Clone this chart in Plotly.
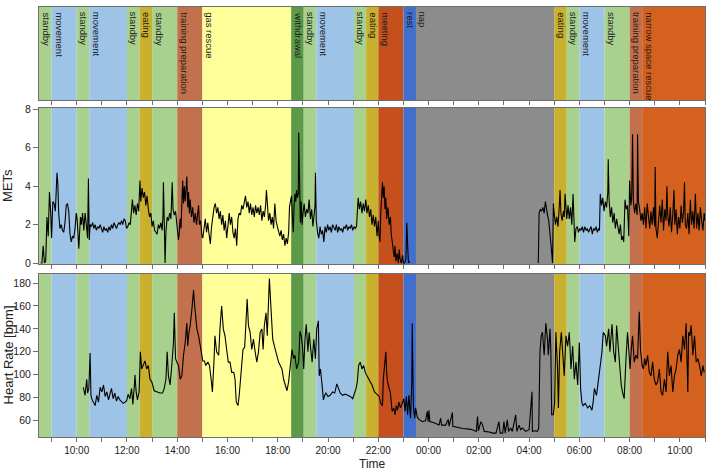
import plotly.graph_objects as go

# ---------------- data ----------------
seg_start = ["08:30", "09:00", "10:00", "10:30", "12:00", "12:30", "13:00", "14:00",
             "15:00", "18:32", "19:02", "19:32", "21:02", "21:31", "22:00", "23:00",
             "23:30", "05:00", "05:30", "06:00", "07:00", "08:00", "08:30"]
seg_end_last = "11:00"
seg_label = ["standby", "movement", "standby", "movement", "standby", "eating", "standby",
             "training preparation", "gas rescue", "withdrawal", "standby", "movement",
             "standby", "eating", "meeting", "rest", "nap", "eating", "standby", "movement",
             "standby", "training preparation", "narrow space rescue"]
activity_color = {
    "standby": "#a9d18e", "movement": "#9dc3e6", "eating": "#c9b02f",
    "training preparation": "#c3704c", "gas rescue": "#ffff99", "withdrawal": "#5c9a4a",
    "meeting": "#c5501e", "rest": "#4070cc", "nap": "#8c8c8c",
    "narrow space rescue": "#d5611f",
}

met1_time = [
    "08:34", "08:37", "08:40", "08:43", "08:46", "08:49", "08:52", "08:55", "08:58", "09:00",
    "09:03", "09:06", "09:09", "09:11", "09:13", "09:15", "09:17", "09:20", "09:23", "09:26",
    "09:29", "09:32", "09:35", "09:38", "09:41", "09:44", "09:47", "09:50", "09:53", "09:56",
    "09:59", "10:01", "10:04", "10:05", "10:07", "10:09", "10:11", "10:14", "10:17", "10:20",
    "10:23", "10:26", "10:28", "10:30", "10:32", "10:35", "10:38", "10:41", "10:44", "10:47",
    "10:50", "10:53", "10:56", "10:59", "11:02", "11:05", "11:08", "11:11", "11:14", "11:17",
    "11:20", "11:23", "11:26", "11:29", "11:32", "11:35", "11:38", "11:41", "11:44", "11:47",
    "11:50", "11:53", "11:56", "11:59", "12:02", "12:05", "12:08", "12:11", "12:13", "12:16",
    "12:19", "12:22", "12:25", "12:28", "12:31", "12:33", "12:36", "12:39", "12:42", "12:45",
    "12:48", "12:51", "12:54", "12:57", "13:00", "13:03", "13:06", "13:09", "13:12", "13:15",
    "13:18", "13:21", "13:24", "13:26", "13:27", "13:29", "13:31", "13:33", "13:36", "13:39",
    "13:42", "13:45", "13:47", "13:48", "13:50", "13:53", "13:56", "13:59", "14:01", "14:03",
    "14:05", "14:07", "14:09", "14:11", "14:13", "14:15", "14:17", "14:19", "14:21", "14:23",
    "14:25", "14:27", "14:29", "14:31", "14:34", "14:37", "14:40", "14:43", "14:46", "14:49",
    "14:51", "14:53", "14:56", "14:59", "15:01", "15:04", "15:07", "15:10", "15:13", "15:16",
    "15:19", "15:22", "15:25", "15:28", "15:31", "15:34", "15:37", "15:40", "15:43", "15:46",
    "15:49", "15:52", "15:55", "15:58", "16:01", "16:04", "16:07", "16:10", "16:13", "16:16",
    "16:19", "16:22", "16:25", "16:28", "16:31", "16:34", "16:37", "16:40", "16:43", "16:46",
    "16:49", "16:52", "16:55", "16:58", "17:01", "17:04", "17:07", "17:10", "17:13", "17:16",
    "17:19", "17:22", "17:25", "17:28", "17:31", "17:33", "17:35", "17:38", "17:41", "17:44",
    "17:47", "17:50", "17:53", "17:56", "17:59", "18:02", "18:05", "18:08", "18:11", "18:14",
    "18:17", "18:20", "18:23", "18:26", "18:28", "18:31", "18:33", "18:35", "18:37", "18:39",
    "18:41", "18:43", "18:45", "18:47", "18:49", "18:50", "18:52", "18:54", "18:56", "18:58",
    "19:00", "19:03", "19:06", "19:09", "19:12", "19:15", "19:18", "19:21", "19:24", "19:27",
    "19:29", "19:30", "19:32", "19:35", "19:38", "19:41", "19:44", "19:47", "19:50", "19:53",
    "19:56", "19:59", "20:02", "20:05", "20:08", "20:11", "20:14", "20:17", "20:20", "20:23",
    "20:26", "20:29", "20:32", "20:35", "20:38", "20:41", "20:44", "20:47", "20:50", "20:53",
    "20:56", "20:59", "21:02", "21:05", "21:08", "21:10", "21:12", "21:15", "21:18", "21:21",
    "21:24", "21:27", "21:30", "21:33", "21:36", "21:39", "21:42", "21:45", "21:48", "21:51",
    "21:54", "21:57", "22:00", "22:02", "22:04", "22:06", "22:08", "22:10", "22:12", "22:14",
    "22:16", "22:18", "22:20", "22:23", "22:26", "22:29", "22:31", "22:33", "22:36", "22:38",
    "22:40", "22:42", "22:45", "22:48", "22:50", "22:52", "22:55", "22:58", "23:00", "23:03",
    "23:06", "23:08", "23:10", "23:12", "23:15",
]
met1_value = [
    0.0, 0.0, 0.9, 0.0, 0.1, 2.4, 1.4, 3.7, 2.6, 1.3,
    3.2, 3.1, 2.7, 3.8, 4.7, 4.1, 2.6, 1.8, 2.0, 1.7,
    1.6, 2.1, 3.0, 3.1, 2.7, 1.5, 1.1, 1.4, 1.3, 1.8,
    2.6, 2.3, 1.2, 0.75, 1.6, 2.4, 2.0, 2.6, 1.7, 2.6,
    2.0, 1.3, 4.4, 1.2, 2.0, 1.9, 2.1, 1.8, 2.0, 1.7,
    1.9, 1.8, 2.0, 1.8, 1.6, 1.9, 1.7, 1.8, 1.6, 1.9,
    1.7, 2.0, 1.8, 2.1, 1.9, 1.8, 2.0, 2.1, 2.0, 2.2,
    2.0, 2.3, 2.2, 1.8, 1.9, 2.1, 2.0, 2.8, 3.3, 2.6,
    3.0, 2.5, 3.1, 2.7, 4.3, 3.2, 3.9, 3.4, 3.7, 3.0,
    3.5, 2.8, 2.4, 2.6, 1.9, 2.2, 1.7, 1.6, 1.5, 2.0,
    1.8, 2.1, 1.7, 2.5, 4.2, 2.2, 0.0, 1.6, 2.4, 2.2,
    2.6, 2.3, 3.3, 4.2, 2.8, 2.5, 2.7, 2.1, 1.5, 1.2,
    1.6, 2.3, 1.8, 3.4, 4.3, 3.1, 4.0, 3.2, 3.8, 4.5,
    2.9, 3.7, 2.6, 3.3, 2.4, 2.9, 2.1, 2.6, 2.0, 2.7,
    3.0, 2.0, 2.2, 1.4, 1.3, 1.8, 2.3, 1.6, 2.1, 1.5,
    1.0, 1.9, 2.6, 2.9, 3.1, 2.6, 2.9, 2.3, 2.7, 2.0,
    2.5, 1.7, 2.2, 1.3, 1.9, 2.6, 2.0, 2.4, 1.6, 1.3,
    1.8, 0.9, 2.3, 2.6, 2.5, 3.0, 2.8, 3.3, 3.5, 2.9,
    3.2, 2.6, 3.1, 2.5, 2.9, 2.4, 3.0, 2.6, 2.9, 2.5,
    3.0, 2.2, 2.7, 2.4, 3.0, 3.8, 2.9, 2.2, 2.6, 2.0,
    2.4, 1.8, 3.1, 2.2, 1.9, 1.6, 1.4, 1.7, 1.2, 1.5,
    0.9, 1.3, 1.0, 1.6, 2.9, 3.3, 3.5, 2.4, 1.6, 3.0,
    3.6, 3.2, 3.8, 3.4, 3.6, 6.8, 3.3, 2.1, 3.2, 2.0,
    2.5, 3.1, 2.4, 2.8, 2.6, 3.3, 2.3, 2.8, 1.9, 2.5,
    3.0, 4.7, 2.2, 1.6, 1.3, 1.9, 1.5, 1.7, 1.1, 1.9,
    1.6, 2.0, 1.7, 1.9, 1.6, 2.0, 1.8, 1.7, 2.0, 1.6,
    1.9, 1.7, 1.8, 1.6, 1.9, 1.8, 2.0, 1.7, 1.9, 1.8,
    2.0, 1.7, 1.9, 1.8, 1.9, 3.0, 3.4, 2.8, 3.2, 2.6,
    3.1, 2.7, 3.3, 2.6, 3.0, 2.4, 2.8, 2.0, 2.5, 1.9,
    2.4, 1.4, 2.2, 1.4, 1.1, 2.6, 3.6, 4.2, 3.4, 4.0,
    2.8, 3.4, 2.3, 2.9, 2.0, 2.4, 1.5, 1.1, 0.8, 0.3,
    0.9, 0.1, 0.5, 0.0, 0.7, 0.2, 0.0, 0.4, 0.0, 0.0,
    0.2, 2.1, 1.0, 0.0, 0.1,
]

met2_time = [
    "04:22", "04:24", "04:27", "04:30", "04:33", "04:36", "04:39", "04:41", "04:44", "04:47",
    "04:50", "04:53", "04:56", "04:58", "05:00", "05:03", "05:06", "05:09", "05:12", "05:14",
    "05:16", "05:19", "05:22", "05:24", "05:26", "05:28", "05:30", "05:33", "05:36", "05:39",
    "05:42", "05:45", "05:47", "05:49", "05:52", "05:55", "05:58", "06:01", "06:04", "06:07",
    "06:10", "06:13", "06:16", "06:19", "06:22", "06:25", "06:28", "06:31", "06:34", "06:37",
    "06:40", "06:43", "06:46", "06:48", "06:50", "06:53", "06:56", "06:59", "07:02", "07:05",
    "07:08", "07:09", "07:11", "07:14", "07:17", "07:20", "07:23", "07:26", "07:29", "07:32",
    "07:35", "07:38", "07:41", "07:44", "07:46", "07:49", "07:52", "07:55", "07:58", "08:00",
    "08:03", "08:05", "08:07", "08:09", "08:12", "08:15", "08:18", "08:19", "08:21", "08:24",
    "08:27", "08:30", "08:33", "08:36", "08:39", "08:42", "08:45", "08:48", "08:51", "08:54",
    "08:57", "09:00", "09:01", "09:03", "09:06", "09:09", "09:12", "09:15", "09:18", "09:21",
    "09:24", "09:27", "09:29", "09:31", "09:34", "09:37", "09:40", "09:43", "09:46", "09:48",
    "09:51", "09:54", "09:57", "10:00", "10:03", "10:06", "10:09", "10:11", "10:13", "10:16",
    "10:19", "10:22", "10:25", "10:28", "10:31", "10:34", "10:37", "10:40", "10:43", "10:46",
    "10:49", "10:52", "10:55", "10:58", "11:00",
]
met2_value = [
    0.0, 2.6, 2.8, 2.7, 2.9, 2.6, 3.2, 2.8, 2.5, 2.2,
    1.6, 0.8, 0.0, 3.1, 2.6, 2.0, 2.4, 1.9, 2.9, 3.8,
    2.6, 2.2, 2.7, 2.4, 3.6, 3.0, 2.3, 3.0, 2.3, 2.9,
    2.0, 3.6, 1.9, 1.1, 1.8, 1.9, 1.6, 1.8, 1.7, 1.9,
    1.6, 1.9, 1.7, 1.8, 1.6, 1.8, 1.9, 1.5, 1.8, 1.7,
    1.9, 1.6, 1.8, 1.7, 3.6, 3.0, 3.4, 2.7, 3.2, 2.9,
    3.7, 5.4, 3.3, 2.4, 2.9, 2.1, 2.6, 1.8, 2.3, 1.9,
    1.5, 2.0, 1.2, 1.4, 1.1, 3.3, 2.8, 3.0, 1.4, 4.3,
    3.0, 3.4, 6.7, 3.2, 2.6, 3.1, 2.5, 6.7, 3.2, 2.8,
    2.2, 2.6, 2.0, 2.9, 1.8, 3.1, 2.3, 1.8, 2.7, 2.0,
    2.9, 1.9, 5.0, 1.8, 1.3, 2.4, 3.0, 2.1, 3.3, 1.7,
    2.8, 2.2, 4.0, 2.5, 1.9, 2.9, 1.6, 2.5, 3.8, 2.0,
    2.8, 1.5, 2.4, 1.8, 3.0, 2.1, 2.7, 4.2, 2.0, 1.8,
    2.6, 1.5, 3.3, 2.0, 2.7, 1.8, 3.6, 1.8, 2.6, 1.7,
    2.9, 2.2, 1.7, 2.6, 2.2,
]

hr_time = [
    "10:16", "10:20", "10:24", "10:26", "10:29", "10:32", "10:34", "10:37", "10:44", "10:48",
    "10:52", "10:56", "11:00", "11:04", "11:08", "11:12", "11:16", "11:19", "11:23", "11:27",
    "11:31", "11:35", "11:39", "11:43", "11:47", "11:51", "11:55", "11:59", "12:03", "12:07",
    "12:11", "12:14", "12:18", "12:19", "12:22", "12:25", "12:29", "12:32", "12:35", "12:39",
    "12:43", "12:47", "12:51", "12:55", "12:59", "13:05", "13:11", "13:19", "13:25", "13:29",
    "13:33", "13:36", "13:39", "13:43", "13:47", "13:51", "13:53", "13:56", "13:59", "14:03",
    "14:07", "14:11", "14:15", "14:19", "14:23", "14:25", "14:28", "14:31", "14:35", "14:39",
    "14:41", "14:44", "14:47", "14:51", "14:55", "14:57", "15:01", "15:05", "15:08", "15:13",
    "15:17", "15:21", "15:24", "15:28", "15:30", "15:34", "15:39", "15:42", "15:46", "15:50",
    "15:54", "15:58", "16:02", "16:06", "16:10", "16:15", "16:18", "16:21", "16:25", "16:28",
    "16:33", "16:37", "16:41", "16:44", "16:47", "16:50", "16:54", "16:58", "17:02", "17:06",
    "17:10", "17:14", "17:18", "17:22", "17:25", "17:28", "17:32", "17:35", "17:38", "17:40",
    "17:44", "17:48", "17:52", "17:55", "17:59", "18:02", "18:06", "18:10", "18:14", "18:18",
    "18:22", "18:26", "18:30", "18:34", "18:38", "18:41", "18:45", "18:50", "18:53", "18:56",
    "18:59", "19:02", "19:05", "19:08", "19:12", "19:15", "19:18", "19:22", "19:26", "19:30",
    "19:33", "19:37", "19:39", "19:42", "19:45", "19:49", "19:52", "19:55", "20:00", "20:05",
    "20:11", "20:16", "20:21", "20:25", "20:29", "20:35", "20:41", "20:47", "20:53", "20:59",
    "21:04", "21:07", "21:10", "21:13", "21:17", "21:21", "21:25", "21:29", "21:33", "21:37",
    "21:45", "21:51", "21:54", "21:58", "22:02", "22:06", "22:10", "22:12", "22:14", "22:18",
    "22:20", "22:22", "22:26", "22:29", "22:33", "22:37", "22:40", "22:43", "22:46", "22:49",
    "22:53", "22:57", "23:01", "23:04", "23:07", "23:10", "23:13", "23:17", "23:20", "23:21",
    "23:24", "23:27", "23:29", "23:33", "23:37", "23:45", "23:53", "23:57", "23:59", "00:01",
    "00:03", "00:13", "00:25", "00:29", "00:31", "00:41", "00:47", "00:49", "00:57", "00:58",
    "01:09", "01:21", "01:37", "01:45", "01:54", "01:57", "01:59", "02:05", "02:09", "02:13",
    "02:25", "02:33", "02:41", "02:48", "02:51", "02:57", "03:00", "03:03", "03:08", "03:11",
    "03:16", "03:20", "03:28", "03:31", "03:36", "03:40", "03:44", "03:52", "04:00", "04:07",
    "04:08", "04:16", "04:20", "04:23", "04:26", "04:29", "04:32", "04:36", "04:40", "04:44",
    "04:46", "04:50", "04:52", "04:54", "04:58", "05:01", "05:04", "05:08", "05:10", "05:13",
    "05:17", "05:20", "05:24", "05:28", "05:32", "05:36", "05:40", "05:44", "05:48", "05:52",
    "05:56", "06:00", "06:03", "06:06", "06:09", "06:14", "06:20", "06:25", "06:30", "06:33",
    "06:36", "06:41", "06:46", "06:49", "06:54", "06:57", "07:02", "07:05", "07:10", "07:13",
    "07:18", "07:22", "07:26", "07:29", "07:34", "07:37", "07:40", "07:43", "07:47", "07:51",
    "07:55", "07:58", "08:01", "08:04", "08:07", "08:11", "08:15", "08:19", "08:23", "08:26",
    "08:30", "08:33", "08:36", "08:39", "08:43", "08:47", "08:51", "08:55", "08:59", "09:03",
    "09:07", "09:11", "09:15", "09:19", "09:23", "09:27", "09:31", "09:35", "09:39", "09:43",
    "09:47", "09:51", "09:55", "09:59", "10:03", "10:07", "10:11", "10:15", "10:19", "10:21",
    "10:24", "10:27", "10:31", "10:35", "10:39", "10:43", "10:47", "10:51", "10:55", "10:58",
]
hr_value = [
    89, 82, 96, 84, 88, 119, 82, 78, 73, 82,
    76, 89, 85, 91, 81, 85, 78, 82, 88, 79,
    84, 77, 81, 78, 76, 75, 76, 77, 83, 79,
    88, 74, 92, 100, 85, 78, 85, 120, 105, 108,
    112, 105, 108, 96, 94, 86, 85, 84, 84, 88,
    96, 120, 99, 91, 108, 128, 154, 114, 111, 108,
    96, 99, 117, 128, 145, 125, 137, 143, 157, 174,
    163, 154, 140, 134, 125, 122, 112, 112, 108, 111,
    108, 96, 85, 114, 134, 120, 117, 140, 160, 140,
    134, 122, 111, 111, 102, 102, 96, 76, 73, 82,
    105, 122, 124, 143, 166, 143, 137, 122, 131, 120,
    111, 120, 137, 140, 122, 143, 154, 134, 163, 184,
    157, 131, 125, 120, 114, 111, 108, 105, 96, 91,
    86, 94, 108, 122, 114, 117, 105, 111, 138, 134,
    125, 105, 131, 144, 120, 137, 125, 111, 131, 114,
    140, 147, 99, 105, 94, 78, 82, 84, 81, 82,
    85, 84, 92, 87, 84, 82, 83, 82, 81, 79,
    84, 88, 94, 108, 111, 105, 108, 102, 99, 96,
    91, 85, 84, 82, 81, 75, 73, 96, 107, 120,
    102, 94, 88, 84, 68, 71, 65, 73, 69, 76,
    71, 75, 79, 68, 81, 65, 82, 62, 94, 145,
    71, 62, 71, 63, 61, 59, 60, 68, 59, 69,
    59, 58, 56, 62, 56, 56, 61, 55, 67, 55,
    54, 53, 52.5, 52, 50.5, 63.5, 51, 59, 56, 50.5,
    50, 49, 49, 59, 49, 49, 59, 49, 60.6, 50.5,
    53.4, 50.5, 65, 50.5, 56, 52, 53.4, 50.5, 52, 85,
    50.5, 51, 50.5, 53.4, 120, 134, 137, 117, 145, 131,
    117, 140, 120, 65, 65, 76, 137, 105, 71, 120,
    137, 122, 99, 134, 125, 137, 105, 125, 96, 111,
    91, 128, 88, 76, 73, 75, 71, 73, 69, 76,
    88, 82, 96, 102, 120, 137, 134, 125, 140, 120,
    144, 120, 111, 143, 117, 105, 91, 85, 79, 111,
    137, 122, 105, 122, 134, 111, 117, 114, 155, 122,
    108, 105, 114, 108, 117, 102, 99, 111, 96, 91,
    94, 105, 85, 82, 96, 85, 120, 99, 108, 85,
    99, 105, 117, 122, 111, 134, 122, 145, 85, 137,
    134, 143, 117, 134, 111, 114, 108, 99, 108, 102,
]

x_start, x_end = 8.5, 35.0          # 08:30 day 1 -> 11:00 day 2
met_ticks = [0, 2, 4, 6, 8]
hr_ticks = [60, 80, 100, 120, 140, 160, 180]


def to_hours(times, day=0):
    """Convert clock strings to hours since 00:00 of day 1, wrapping at midnight."""
    out, prev = [], None
    for s in times:
        h, m = map(int, s.split(":"))
        v = h + m / 60 + 24 * day
        if prev is not None and v < prev:
            day += 1
            v += 24
        out.append(v)
        prev = v
    return out


seg_x0 = to_hours(seg_start)
seg_x1 = seg_x0[1:] + [to_hours([seg_end_last], day=1)[0]]

FONT = "Liberation Sans, Arial, sans-serif"
AX = "#6e6e6e"
TXT = "#222222"

fig = go.Figure()
line = dict(color="black", width=1.1)
fig.add_trace(go.Scatter(x=to_hours(met1_time), y=met1_value, mode="lines", line=line,
                         xaxis="x2", yaxis="y2", showlegend=False, hoverinfo="skip"))
fig.add_trace(go.Scatter(x=to_hours(met2_time, day=1), y=met2_value, mode="lines", line=line,
                         xaxis="x2", yaxis="y2", showlegend=False, hoverinfo="skip"))
fig.add_trace(go.Scatter(x=to_hours(hr_time), y=hr_value, mode="lines", line=line,
                         xaxis="x", yaxis="y", showlegend=False, hoverinfo="skip"))
# invisible trace so the top axis exists
fig.add_trace(go.Scatter(x=[x_start], y=[0], mode="markers", marker=dict(opacity=0),
                         xaxis="x3", yaxis="y3", showlegend=False, hoverinfo="skip"))

shapes = []
annotations = []
for x0, x1, lab in zip(seg_x0, seg_x1, seg_label):
    for xr, yr in (("x", "y domain"), ("x2", "y2 domain"), ("x3", "y3 domain")):
        shapes.append(dict(type="rect", xref=xr, yref=yr, x0=x0, x1=x1, y0=0, y1=1,
                           fillcolor=activity_color[lab], line=dict(width=0), layer="below"))
    annotations.append(dict(x=x0, y=1, xref="x3", yref="y3 domain", text=lab,
                            textangle=90, showarrow=False, xanchor="left", yanchor="top",
                            xshift=0, yshift=-3,
                            font=dict(family=FONT, size=9.5, color="#1a1a1a")))

annotations += [
    dict(x=0, y=0.5, xref="paper", yref="y2 domain", text="METs", textangle=-90,
         showarrow=False, xanchor="center", yanchor="middle", xshift=-31,
         font=dict(family=FONT, size=13, color=TXT)),
    dict(x=0, y=0.5, xref="paper", yref="y domain", text="Heart Rate [bpm]", textangle=-90,
         showarrow=False, xanchor="center", yanchor="middle", xshift=-31,
         font=dict(family=FONT, size=13, color=TXT)),
    dict(x=0.5, y=0, xref="paper", yref="paper", text="Time", showarrow=False,
         xanchor="center", yanchor="middle", yshift=-27, borderpad=0,
         font=dict(family=FONT, size=12, color=TXT)),
]

tickvals = list(range(9, 36))
ticktext = [f"{h % 24:02d}:00" if h % 2 == 0 else "" for h in tickvals]

xcommon = dict(range=[x_start, x_end], showgrid=False, zeroline=False, showline=True,
               mirror=True, linecolor=AX, linewidth=1, ticks="outside", ticklen=4,
               tickcolor=AX, tickmode="array", tickvals=tickvals)
ycommon = dict(showgrid=False, zeroline=False, showline=True, mirror=True, linecolor=AX,
               linewidth=1, tickcolor=AX,
               tickfont=dict(family=FONT, size=10.5, color=TXT))

fig.update_layout(
    width=708, height=472,
    margin=dict(l=39, r=3, t=2, b=35),
    paper_bgcolor="white", plot_bgcolor="white",
    xaxis=dict(**xcommon, anchor="y", ticktext=ticktext,
               tickfont=dict(family=FONT, size=10, color=TXT)),
    xaxis2=dict(**xcommon, anchor="y2", matches="x", ticktext=[""] * len(tickvals)),
    xaxis3=dict(**xcommon, anchor="y3", matches="x", ticktext=[""] * len(tickvals)),
    yaxis=dict(**ycommon, domain=[0, 0.3793], range=[45.6, 188], tickvals=hr_ticks,
               ticks="outside", ticklen=5),
    yaxis2=dict(**ycommon, domain=[0.4023, 0.7655], range=[-0.05, 8.08], tickvals=met_ticks,
                ticks="outside", ticklen=5),
    yaxis3=dict(**ycommon, domain=[0.7839, 1.0], range=[0, 1], showticklabels=False,
                ticks=""),
    shapes=shapes,
    annotations=annotations,
)

fig.write_html("out.html")
